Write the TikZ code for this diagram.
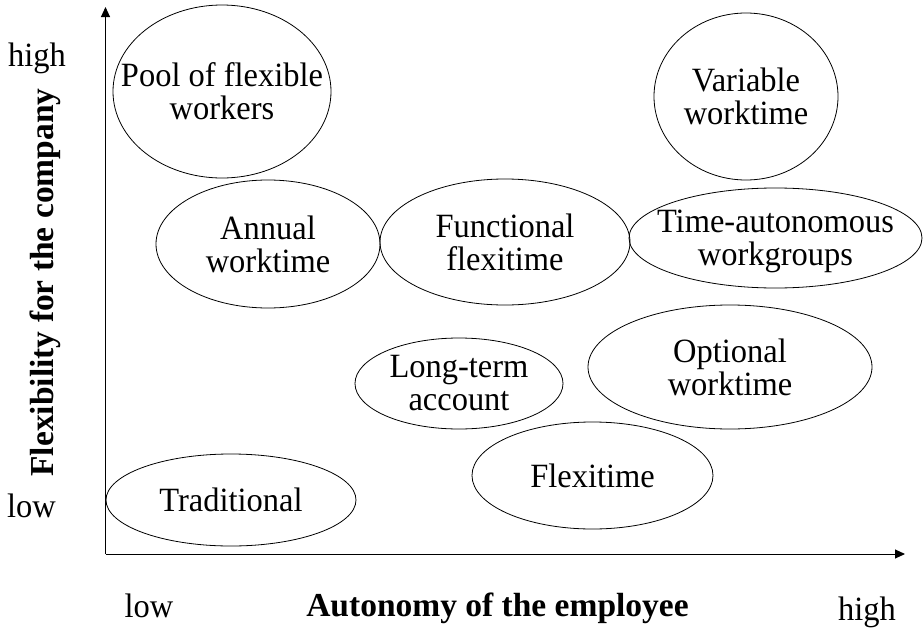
\documentclass[tikz,border=0pt]{standalone}
\usepackage{fontspec}
\setmainfont{Liberation Serif}[FakeStretch=0.955]
\newfontfamily\titlefont{Liberation Serif}[BoldFont={* Bold}]
\usetikzlibrary{shapes.geometric,arrows.meta}
\begin{document}
\begin{tikzpicture}[x=1pt,y=-1pt,
  blob/.style={draw, ellipse, line width=0.8pt, inner sep=0pt},
  lbl/.style={align=center, inner sep=0pt, font=\fontsize{34}{33}\selectfont},
  axlbl/.style={anchor=base, inner sep=0pt, font=\fontsize{34}{33}\selectfont},
  axtitle/.style={inner sep=0pt, font=\titlefont\fontsize{33.5}{33}\selectfont\bfseries},
  axis/.style={line width=1pt, -{Triangle[length=10pt,width=9pt]}}]
\useasboundingbox (0,0) rectangle (924,629);

% axes
\coordinate (origin) at (105.5,554);
\coordinate (ytip) at (105.5,7);
\coordinate (xtip) at (905,554);
\draw[axis] (origin) -- (ytip);
\draw[axis] (origin) -- (xtip);

% axis labels
\node[axlbl] (yhigh) at (37,66) {high};
\node[axlbl] (ylow) at (31.5,517) {low};
\node[axlbl] (xlow) at (149,617) {low};
\node[axlbl] (xhigh) at (867,620) {high};
\node[axtitle, anchor=base] (xtitle) at (497.5,616) {Autonomy of the employee};
\node[axtitle, rotate=90] (ytitle) at (45,282.5) {Flexibility for the company};

% working-time models
\node[blob, minimum width=218pt, minimum height=173pt] (pool) at (222,91.5) {};
\node[lbl] (poolt) at (pool) {Pool of flexible\\workers};

\node[blob, minimum width=184pt, minimum height=167pt] (var) at (746,96.5) {};
\node[lbl] (vart) at (var) {Variable\\worktime};

\node[blob, minimum width=224pt, minimum height=128pt] (annual) at (268,244) {};
\node[lbl] (annualt) at (annual) {Annual\\worktime};

\node[blob, minimum width=250pt, minimum height=126pt] (func) at (505,242) {};
\node[lbl] (funct) at (func) {Functional\\flexitime};

\node[blob, minimum width=293pt, minimum height=100pt] (team) at (775.5,238) {};
\node[lbl] (teamt) at ([yshift=-3pt]team.center) {Time-autonomous\\workgroups};

\node[blob, minimum width=208pt, minimum height=91pt] (long) at (459,383.5) {};
\node[lbl] (longt) at (long) {Long-term\\account};

\node[blob, minimum width=284pt, minimum height=124pt] (opt) at (730,367) {};
\node[lbl] (optt) at (opt) {Optional\\worktime};

\node[blob, minimum width=241pt, minimum height=107pt] (flexi) at (592.5,475.5) {};
\node[lbl] (flexit) at (flexi) {Flexitime};

\node[blob, minimum width=250pt, minimum height=92pt] (trad) at (231,500) {};
\node[lbl] (tradt) at (trad) {Traditional};
\end{tikzpicture}
\end{document}
